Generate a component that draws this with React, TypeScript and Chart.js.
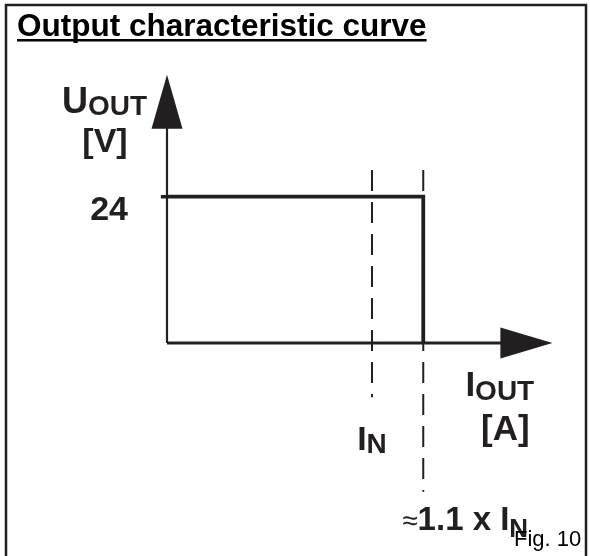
import React, { useEffect, useRef } from "react";
import { Chart, registerables } from "chart.js";

Chart.register(...registerables);

// ---- data (schematic positions) ----
const currentMarkLabels = ["I_N", "≈1.1 x I_N"];
const currentMarks = [1.0, 1.25]; // drawn positions on the current axis (x I_N)
const voltageTicks = [24];
const curveX = [0, 1.25, 1.25];
const curveY = [24, 24, 0];
const dashTop = 28.4;
const dashBottoms = [-8.9, -24.4];
const axisXEnd = 1.88;
const axisYEnd = 44;

const FONT = '"Liberation Sans", Arial, Helvetica, sans-serif';
const INK = "#231f20";

type Part = { t: string; size: number; dy: number; bold?: boolean };

function drawParts(ctx: CanvasRenderingContext2D, x: number, y: number, parts: Part[], align: "left" | "center" | "right") {
  const widths = parts.map((p) => {
    ctx.font = `${p.bold === false ? "" : "bold "}${p.size}px ${FONT}`;
    return ctx.measureText(p.t).width;
  });
  const total = widths.reduce((a, b) => a + b, 0);
  let cx = align === "left" ? x : align === "center" ? x - total / 2 : x - total;
  ctx.textAlign = "left";
  ctx.textBaseline = "alphabetic";
  parts.forEach((p, i) => {
    ctx.font = `${p.bold === false ? "" : "bold "}${p.size}px ${FONT}`;
    ctx.fillText(p.t, cx, y + p.dy);
    cx += widths[i];
  });
}

const schematicPlugin = {
  id: "schematic",
  beforeDraw(chart: any) {
    const ctx = chart.ctx as CanvasRenderingContext2D;
    ctx.save();
    ctx.fillStyle = "#ffffff";
    ctx.fillRect(0, 0, chart.width, chart.height);
    // frame
    ctx.strokeStyle = INK;
    ctx.lineWidth = 2.5;
    ctx.beginPath();
    ctx.moveTo(6, chart.height);
    ctx.lineTo(6, 5);
    ctx.lineTo(586, 5);
    ctx.lineTo(586, chart.height);
    ctx.stroke();
    // title
    ctx.fillStyle = "#000";
    ctx.font = `bold 31.5px ${FONT}`;
    ctx.textAlign = "left";
    ctx.textBaseline = "alphabetic";
    const title = "Output characteristic curve";
    ctx.fillText(title, 17, 36);
    const w = ctx.measureText(title).width;
    ctx.fillRect(17, 39, w, 2.5);
    ctx.restore();
  },
  afterDatasetsDraw(chart: any) {
    const ctx = chart.ctx as CanvasRenderingContext2D;
    const xs = chart.scales.x;
    const ys = chart.scales.y;
    const x0 = xs.getPixelForValue(0);
    const y0 = ys.getPixelForValue(0);
    ctx.save();
    ctx.fillStyle = INK;
    // arrowheads
    const yt = ys.getPixelForValue(axisYEnd);
    ctx.beginPath();
    ctx.moveTo(x0, yt);
    ctx.lineTo(x0 - 15.5, yt + 54);
    ctx.lineTo(x0 + 15.5, yt + 54);
    ctx.closePath();
    ctx.fill();
    const xt = xs.getPixelForValue(axisXEnd);
    ctx.beginPath();
    ctx.moveTo(xt, y0);
    ctx.lineTo(xt - 52, y0 - 15.5);
    ctx.lineTo(xt - 52, y0 + 15.5);
    ctx.closePath();
    ctx.fill();

    // axis titles
    drawParts(ctx, x0 - 105, 113, [
      { t: "U", size: 36, dy: 0 },
      { t: "OUT", size: 28, dy: 2 },
    ], "left");
    drawParts(ctx, x0 - 62, 152, [{ t: "[V]", size: 34, dy: 0 }], "center");
    drawParts(ctx, xt - 87, y0 + 53, [
      { t: "I", size: 35, dy: 0 },
      { t: "OUT", size: 28, dy: 4 },
    ], "left");
    drawParts(ctx, xt - 47, y0 + 97, [{ t: "[A]", size: 35, dy: 0 }], "center");

    // y tick label
    voltageTicks.forEach((v) => {
      drawParts(ctx, x0 - 39, ys.getPixelForValue(v) + 23, [{ t: String(v), size: 34, dy: 0 }], "right");
    });

    // current mark labels
    const xn = xs.getPixelForValue(currentMarks[0]);
    drawParts(ctx, xn, y0 + 107, [
      { t: "I", size: 34, dy: 0 },
      { t: currentMarkLabels[0].split("_")[1], size: 28, dy: 3 },
    ], "center");
    const xl = xs.getPixelForValue(currentMarks[1]);
    const lab = currentMarkLabels[1].split("_");
    drawParts(ctx, xl - 21, y0 + 187, [
      { t: lab[0].slice(0, 1), size: 28, dy: 0, bold: false },
      { t: lab[0].slice(1), size: 33, dy: 0 },
      { t: lab[1], size: 26, dy: 7 },
    ], "left");

    // figure number
    ctx.fillStyle = "#000";
    drawParts(ctx, 514, 546, [{ t: "Fig. 10", size: 22, dy: 0, bold: false }], "left");
    ctx.restore();
  },
};

export default function App() {
  const ref = useRef<HTMLCanvasElement | null>(null);
  useEffect(() => {
    document.body.style.margin = "0";
    const canvas = ref.current;
    if (!canvas) return;
    const line = (data: { x: number; y: number }[], width: number, dash: number[] = []) => ({
      data,
      showLine: true,
      borderColor: INK,
      borderWidth: width,
      borderDash: dash,
      borderCapStyle: "butt" as const,
      borderJoinStyle: "miter" as const,
      pointRadius: 0,
      fill: false,
      clip: false as const,
      tension: 0,
    });
    const chart = new Chart(canvas, {
      type: "scatter",
      data: {
        datasets: [
          // dashed markers
          ...currentMarks.map((m, i) =>
            line([
              { x: m, y: dashTop },
              { x: m, y: dashBottoms[i] },
            ], 2, [21, 11])
          ),
          // axes
          line([
            { x: 0, y: 0 },
            { x: 0, y: axisYEnd - 5 },
          ], 2.2),
          line([
            { x: 0, y: 0 },
            { x: axisXEnd - 0.1, y: 0 },
          ], 3),
          // tick
          ...voltageTicks.map((v) => line([
            { x: -0.03, y: v },
            { x: 0, y: v },
          ], 3.5)),
          // characteristic
          line(curveX.map((x, i) => ({ x, y: curveY[i] })), 3.8),
        ],
      },
      options: {
        responsive: false,
        animation: false,
        layout: { padding: { left: 3, right: 13, top: 68.7, bottom: 5.7 } },
        scales: {
          x: { type: "linear", min: -0.8, max: 2.0, display: false },
          y: { type: "linear", min: -34, max: 45, display: false },
        },
        plugins: { legend: { display: false }, tooltip: { enabled: false } },
        events: [],
      },
      plugins: [schematicPlugin],
    });
    return () => chart.destroy();
  }, []);
  return (
    <div style={{ width: 590, height: 556 }}>
      <canvas ref={ref} width={590} height={556} style={{ display: "block" }} />
    </div>
  );
}
